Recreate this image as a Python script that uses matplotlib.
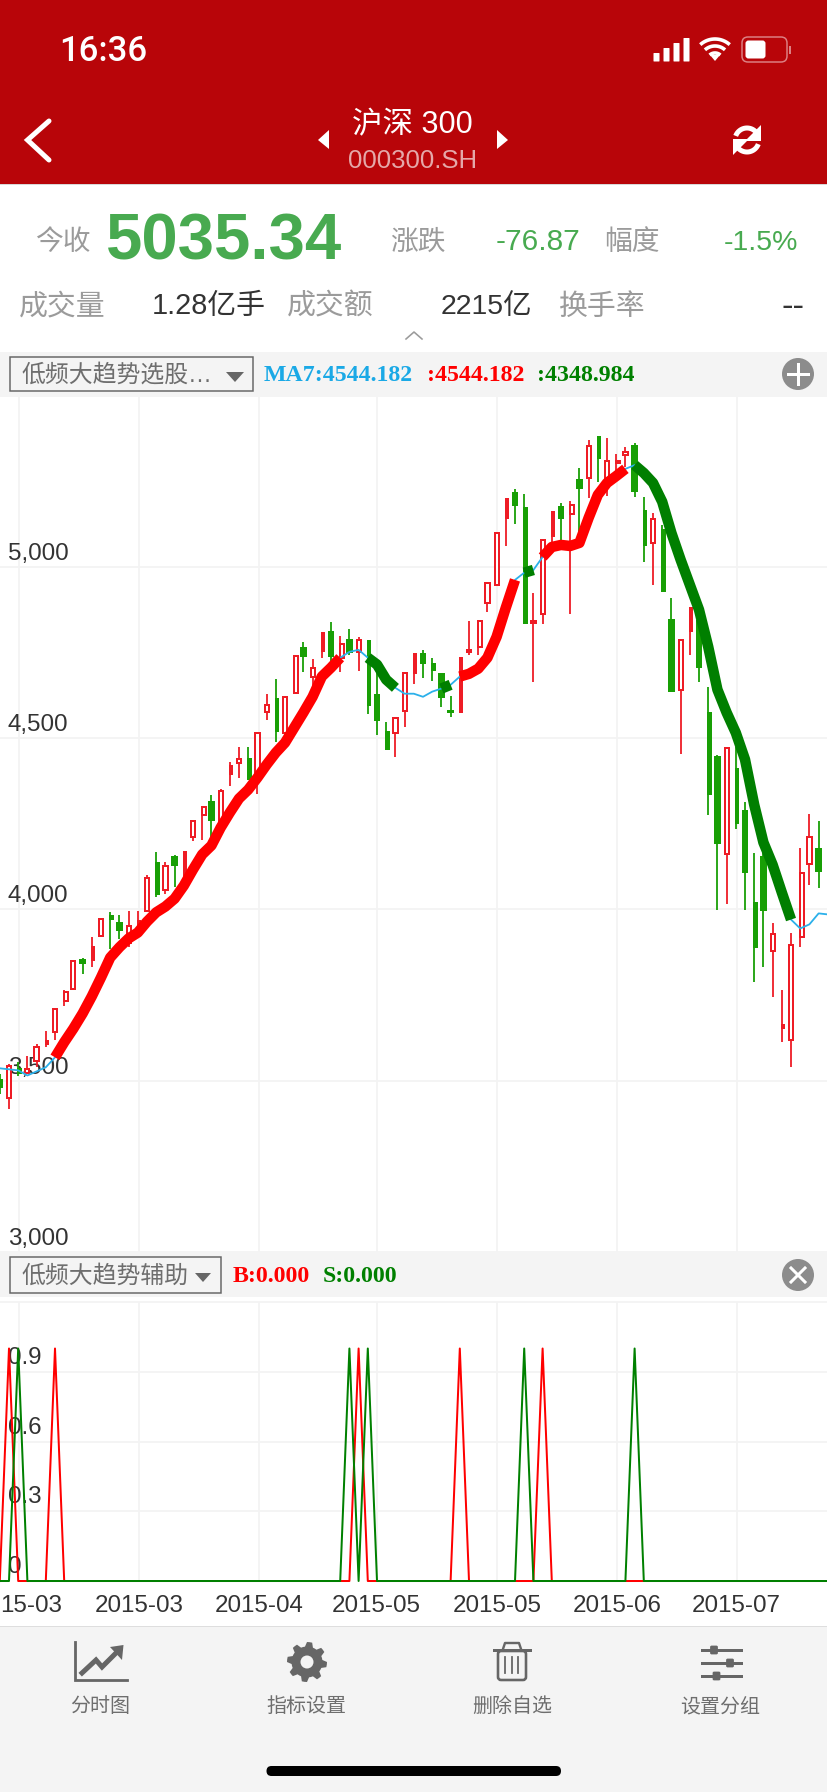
import numpy as np
import matplotlib
matplotlib.use('Agg')
import matplotlib.pyplot as plt
from matplotlib.patches import Rectangle, Circle, Polygon, FancyBboxPatch

# index of first bar is -1 (cut off at the left edge)
opens = [3504,3448,3536,3521,3556,3603,3641,3731,3766,3854,
         3848,3921,3982,3964,3903,3941,3996,4139,4055,4154,
         4096,4212,4276,4317,4247,4393,4428,4442,4387,4576,
         4617,4515,4632,4766,4679,4751,4813,4734,4789,4751,
         4786,4629,4521,4515,4579,4687,4748,4719,4690,4582,
         4574,4751,4766,4894,4947,5139,5218,5174,4836,4862,
         5087,5177,5154,5256,5259,5381,5253,5302,5326,5355,
         5165,5069,5110,4848,4641,4810,4845,4577,4448,4160,
         4413,4291,4020,4154,3877,3650,3620,3918,4133,4180,4087]
closes = [3478,3542,3518,3533,3597,3620,3708,3760,3848,3839,
          3894,3973,3970,3938,3950,3970,4090,4043,4125,4125,
          4171,4259,4297,4259,4346,4422,4439,4378,4515,4597,
          4518,4620,4740,4737,4705,4810,4737,4775,4748,4786,
          4594,4550,4466,4559,4690,4748,4716,4696,4617,4574,
          4737,4757,4842,4953,5098,5200,5177,4833,4842,5078,
          5162,5139,5180,5227,5352,5314,5308,5308,5334,5218,
          5060,5139,4926,4635,4786,4883,4705,4332,4189,4472,
          4250,4107,3886,3996,3929,3664,3897,4107,4212,4110,3941]
highs = [3518,3548,3553,3571,3606,3644,3708,3763,3848,3859,
         3918,3973,3991,3982,3994,3994,4101,4168,4139,4157,
         4171,4259,4302,4332,4352,4431,4474,4474,4515,4629,
         4673,4620,4740,4781,4731,4810,4839,4798,4818,4795,
         4786,4690,4547,4559,4690,4748,4757,4734,4690,4623,
         4737,4842,4842,4953,5098,5200,5227,5212,4923,5078,
         5162,5186,5192,5288,5369,5381,5375,5329,5349,5361,
         5203,5157,5122,4909,4786,4883,4909,4649,4451,4472,
         4474,4314,4165,4221,3961,3763,3932,4180,4279,4259,4113]
lows = [3460,3416,3513,3518,3539,3597,3620,3717,3763,3810,
        3833,3921,3883,3912,3891,3932,3996,4037,4046,4066,
        4087,4198,4203,4212,4233,4361,4384,4378,4335,4553,
        4489,4509,4629,4693,4649,4734,4708,4693,4743,4696,
        4571,4509,4466,4445,4533,4658,4676,4667,4591,4562,
        4574,4743,4743,4868,4947,5060,5125,4833,4664,4833,
        5063,5072,4862,5098,5200,5247,5206,5273,5291,5203,
        5014,4947,4926,4635,4454,4743,4664,4276,3999,4014,
        4235,3999,3787,3833,3743,3612,3539,3889,4072,4063,3900]
ma7 = [3536,3533,3530,3515,3527,3539,3568,3612,3652,3696,
       3746,3801,3859,3889,3915,3932,3964,3991,4008,4031,
       4069,4116,4160,4186,4238,4282,4323,4349,4384,4422,
       4457,4486,4530,4574,4620,4679,4705,4734,4751,4757,
       4734,4714,4670,4646,4629,4629,4620,4635,4644,4655,
       4679,4687,4702,4734,4795,4880,4961,4982,4990,5028,
       5057,5063,5060,5069,5142,5209,5244,5264,5285,5296,
       5273,5244,5189,5098,5020,4947,4874,4766,4641,4574,
       4515,4437,4305,4195,4130,4049,3970,3944,3956,3988,3985]

# stretches of the MA drawn thick (first bar, last bar)
up_runs = [(5, 36), (49, 55), (58, 67)]
down_runs = [(39, 42), (47, 48), (56, 57), (68, 85)]

# signal panel
buy_bars = [0, 5, 38, 49, 58]
sell_bars = [1, 37, 39, 56, 68]

price_ticks = [5000, 4500, 4000, 3500, 3000]
price_labels = ['5,000', '4,500', '4,000', '3,500', '3,000']
sig_ticks = [0.9, 0.6, 0.3, 0]
sig_labels = ['0.9', '0.6', '0.3', '0']
date_pos = [1.14, 14.13, 27.17, 39.95, 53.04, 66.1, 79.1]
date_labels = ['15-03', '2015-03', '2015-04', '2015-05', '2015-05', '2015-06', '2015-07']

SANS = 'Liberation Sans'
CJK = [SANS, 'Noto Sans CJK SC', 'DejaVu Sans']
SERIF = 'Liberation Serif'
BAR_RED = '#ee1c25'
BAR_GREEN = '#189f05'
GRID = '#f3f3f3'
PANEL = '#f4f4f4'
PX = 0.72  # one pixel in points at dpi 100

W, H = 828, 1792
fig = plt.figure(figsize=(W / 100, H / 100), dpi=100, facecolor='white')

# page furniture in pixel coordinates
ui = fig.add_axes([0, 0, 1, 1], zorder=0)
ui.set_xlim(0, W)
ui.set_ylim(H, 0)
ui.axis('off')


def box(x0, y0, x1, y1, fc, ec='none', lw=0):
    ui.add_patch(Rectangle((x0, y0), x1 - x0, y1 - y0, facecolor=fc, edgecolor=ec, linewidth=lw))


def txt(x, y, s, size, color, ha='center', family=None, weight='normal'):
    ui.text(x, y + 2.5, s, fontsize=size, color=color, ha=ha, va='center',
            family=family or CJK, weight=weight)


def tri(pts, color):
    ui.add_patch(Polygon(pts, closed=True, facecolor=color, edgecolor='none'))


box(0, 0, W, 184, '#b80509')
box(0, 184, W, 185, '#d8d8d8')
box(0, 352, W, 397, PANEL)
box(0, 1252, W, 1297, PANEL)
box(0, 1627, W, H, PANEL)
box(0, 1626, W, 1627, '#dedede')

# status bar
txt(103, 49, '16:36', 25, 'white', family='Roboto', weight='medium')
for k, (x, top) in enumerate(zip([653.5, 663.5, 673.5, 683.5], [53, 48, 43, 38])):
    ui.add_patch(FancyBboxPatch((x + 0.5, top + 0.5), 5, 60.5 - top, boxstyle='round,pad=0.5',
                                facecolor='white', edgecolor='none'))
for r in [8, 15, 22]:
    th = np.radians(np.linspace(48, 132, 30))
    ui.plot(715 + r * np.cos(th), 61 - r * np.sin(th), color='white', lw=3.6 * PX, solid_capstyle='butt')
tri([(715, 61), (710, 55), (720, 55)], 'white')
ui.add_patch(FancyBboxPatch((743, 38), 43, 23, boxstyle='round,pad=1,rounding_size=6',
                            facecolor='none', edgecolor='#dc8083', linewidth=1.5 * PX))
ui.add_patch(FancyBboxPatch((746, 41), 19, 17, boxstyle='round,pad=0.5,rounding_size=3',
                            facecolor='white', edgecolor='none'))
box(789, 46, 791, 54, '#dc8083')

# nav bar
ui.plot([49, 27.5, 49], [121, 140, 160], color='white', lw=5 * PX, solid_capstyle='round', solid_joinstyle='miter')
txt(412, 123, '沪深 300', 22, 'white')
txt(413, 159, '000300.SH', 18.5, '#e5a8a9', family=SANS)
tri([(318, 140), (329, 130), (329, 149)], 'white')
tri([(508, 140), (497, 130), (497, 149)], 'white')
for a0, a1 in [(20, 160), (200, 340)]:
    th = np.radians(np.linspace(a0, a1, 40))
    ui.plot(747 + 12 * np.cos(th), 140 - 12 * np.sin(th), color='white', lw=5 * PX, solid_capstyle='butt')
tri([(761, 125), (761, 141), (745, 141)], 'white')
tri([(733, 155), (733, 139), (749, 139)], 'white')

# quote rows
GREY = '#9b9b9b'
QUOTE_GREEN = '#48aa50'
txt(63, 240, '今收', 20, GREY)
txt(105.5, 240, '5035.34', 47, QUOTE_GREEN, ha='left', family=SANS, weight='bold')
txt(418, 240, '涨跌', 20, GREY)
txt(538, 240, '-76.87', 21.5, QUOTE_GREEN, family=SANS)
txt(632, 240, '幅度', 20, GREY)
txt(798, 240, '-1.5%', 20.5, QUOTE_GREEN, ha='right', family=SANS)
txt(62, 304, '成交量', 20.8, GREY)
txt(152, 304, '1.28亿手', 20.8, '#333333', ha='left')
txt(330, 304, '成交额', 20.8, GREY)
txt(441, 304, '2215亿', 20.5, '#333333', ha='left')
txt(602, 304, '换手率', 20.8, GREY)
txt(805, 304, '--', 25, '#333333', ha='right', family=SANS)
ui.plot([406, 414, 422], [339, 332, 339], color='#9b9b9b', lw=1.6 * PX)

# main toolbar
box(10.5, 357, 253.5, 391, 'none', ec='#666666', lw=1.5 * PX)
txt(21, 373, '低频大趋势选股', 17.2, '#6e6e6e', ha='left')
txt(188, 373, '…', 17.2, '#6e6e6e', ha='left', family=SANS)
tri([(226, 372), (244, 372), (235, 382)], '#666666')
txt(264, 373, 'MA7:4544.182', 17.2, '#1aa9e6', ha='left', family=SERIF, weight='bold')
txt(427, 373, ':4544.182', 17.2, '#ff0000', ha='left', family=SERIF, weight='bold')
txt(537, 373, ':4348.984', 17.2, '#008000', ha='left', family=SERIF, weight='bold')
ui.add_patch(Circle((798, 374), 16, facecolor='#8c8c8c', edgecolor='none'))
ui.plot([788, 808], [374, 374], color='white', lw=3 * PX)
ui.plot([798, 798], [364, 384], color='white', lw=3 * PX)

# signal toolbar
box(10.5, 1257, 221.5, 1293, 'none', ec='#666666', lw=1.5 * PX)
txt(21.5, 1274, '低频大趋势辅助', 17.2, '#6e6e6e', ha='left')
tri([(195, 1273), (211, 1273), (203, 1282)], '#666666')
txt(232.5, 1274, 'B:0.000', 17.2, '#ff0000', ha='left', family=SERIF, weight='bold')
txt(322.5, 1274, 'S:0.000', 17.2, '#008000', ha='left', family=SERIF, weight='bold')
ui.add_patch(Circle((798, 1275), 16, facecolor='#8c8c8c', edgecolor='none'))
ui.plot([791, 805], [1268, 1282], color='white', lw=3 * PX)
ui.plot([791, 805], [1282, 1268], color='white', lw=3 * PX)

# bottom bar icons
ICON = '#666666'
ui.plot([75, 75, 127], [1642, 1680.5, 1680.5], color=ICON, lw=2.8 * PX, solid_joinstyle='miter')
ui.plot([82, 96, 102, 119], [1673, 1660, 1667, 1650], color=ICON, lw=5 * PX, solid_joinstyle='miter')
tri([(123.5, 1645), (110, 1647), (122, 1660)], ICON)
txt(100, 1704, '分时图', 14.4, '#6e6e6e')

ang = np.radians(np.arange(0, 360, 7.5))
rad = np.array([20, 20, 20, 15.5, 15.5] + [15.5] * 1)
rad = np.resize(rad, len(ang))
ui.add_patch(Polygon(np.c_[307 + rad * np.cos(ang), 1662 + rad * np.sin(ang)], closed=True,
                     facecolor=ICON, edgecolor='none'))
ui.add_patch(Circle((307, 1662), 6.5, facecolor=PANEL, edgecolor='none'))
txt(306, 1704, '指标设置', 14.4, '#6e6e6e')

ui.add_patch(FancyBboxPatch((498, 1651), 28, 29, boxstyle='round,pad=0,rounding_size=3',
                            facecolor='none', edgecolor=ICON, linewidth=2.6 * PX))
ui.plot([494, 530.5], [1650, 1650], color=ICON, lw=3 * PX)
ui.plot([503, 505, 519, 521], [1649, 1643, 1643, 1649], color=ICON, lw=2.4 * PX)
for x in [505.5, 512, 518.5]:
    ui.plot([x, x], [1657, 1673], color=ICON, lw=1.8 * PX)
txt(512, 1704, '删除自选', 14.4, '#6e6e6e')

for y, knob in zip([1650, 1663, 1676], [714, 730, 716.5]):
    ui.plot([702, 741], [y, y], color=ICON, lw=3 * PX)
    ui.add_patch(FancyBboxPatch((knob - 4, y - 4.5), 8, 9, boxstyle='round,pad=0.5,rounding_size=2',
                                facecolor=ICON, edgecolor=PANEL, linewidth=1.2 * PX))
txt(720, 1704, '设置分组', 14.4, '#6e6e6e')

ui.add_patch(FancyBboxPatch((266.5, 1766), 294.5, 10, boxstyle='round,pad=0,rounding_size=5',
                            facecolor='black', edgecolor='none', mutation_aspect=1))

# price panel
idx = np.arange(-1, 90)
xlim = (-0.978, 89.02)
px_per_bar = 9.2
ax = fig.add_axes([0, 1 - 1252 / H, 1, (1252 - 397) / H], zorder=1)
ax.patch.set_alpha(0)
ax.set_xlim(*xlim)
ax.set_ylim(3002.4, 5494.7)
for s in ax.spines.values():
    s.set_visible(False)
ax.set_xticks(date_pos)
ax.set_yticks(price_ticks)
ax.tick_params(length=0, labelbottom=False, labelleft=False)
ax.grid(True, color=GRID, lw=1.8 * PX, zorder=0)
ax.set_axisbelow(True)

for t, lab in zip(price_ticks, price_labels):
    ax.annotate(lab, xy=(0, t), xycoords=('axes fraction', 'data'), xytext=(8 * PX, 7 * PX),
                textcoords='offset points', fontsize=17.4, color='#333333', family=SANS,
                ha='left', va='baseline', zorder=1.5, annotation_clip=False)

for i, o, c, h, l in zip(idx, opens, closes, highs, lows):
    up = c >= o
    col = BAR_RED if up else BAR_GREEN
    bot, top = min(o, c), max(o, c)
    ax.plot([i, i], [l, h], color=col, lw=1.8 * PX, solid_capstyle='butt', zorder=2)
    # the app snaps bar widths to whole pixels, every fifth pair comes out narrow
    if i % 5 == 4:
        w_px, off_px = 3.6, 1.0
    elif i % 5 == 1:
        w_px, off_px = (3.8, 1.5) if up else (5.0, 1.6)
    else:
        w_px, off_px = (4.2, 0) if up else (6.4, 0)
    w, off = w_px / px_per_bar, off_px / px_per_bar
    if not up:
        ax.bar(i + off, top - bot, width=w, bottom=bot, color=col, zorder=3)
    elif i % 5 == 4:
        ax.bar(i + off, top - bot, width=w, bottom=bot, color=col, zorder=3)
    else:
        ax.bar(i + off, top - bot, width=w, bottom=bot, facecolor='white', edgecolor=col,
               linewidth=2 * PX, zorder=3)

ax.plot(idx, ma7, color='#2bb0ea', lw=1.8 * PX, zorder=4)
for runs, col in [(up_runs, '#ff0000'), (down_runs, '#007f00')]:
    for a, b in runs:
        ax.plot(idx[a + 1:b + 2], ma7[a + 1:b + 2], color=col, lw=10.5 * PX,
                solid_capstyle='butt', solid_joinstyle='round', zorder=5)

# signal panel
buy = [1 if i in buy_bars else 0 for i in idx]
sell = [1 if i in sell_bars else 0 for i in idx]
ax2 = fig.add_axes([0, 1 - 1626 / H, 1, (1626 - 1297) / H], zorder=1)
ax2.patch.set_alpha(0)
ax2.set_xlim(*xlim)
ax2.set_ylim(-0.1935, 1.2215)
ax2.axis('off')
ax2.vlines(date_pos, 0, 1.2, color=GRID, lw=1.8 * PX, zorder=0)
ax2.hlines([0.3, 0.6, 0.9, 1.2], *xlim, color=GRID, lw=1.8 * PX, zorder=0)
for t, lab in zip(sig_ticks, sig_labels):
    ax2.annotate(lab, xy=(0, t), xycoords=('axes fraction', 'data'), xytext=(8 * PX, 8 * PX),
                 textcoords='offset points', fontsize=17.4, color='#333333', family=SANS,
                 ha='left', va='baseline', zorder=1.5, annotation_clip=False)
ax2.plot(idx, buy, color='#ff0000', lw=2 * PX, zorder=2)
ax2.plot(idx, sell, color='#008000', lw=2 * PX, zorder=3)
for p, lab in zip(date_pos, date_labels):
    # the first label runs off the left edge in the app, only its tail shows
    if lab == '15-03':
        ax2.annotate(lab, xy=(p, 0), xytext=(43 * PX, -30.5 * PX), textcoords='offset points', fontsize=17.4,
                     color='#333333', family=SANS, ha='right', va='baseline', annotation_clip=False)
    else:
        ax2.annotate(lab, xy=(p, 0), xytext=(0, -30.5 * PX), textcoords='offset points', fontsize=17.4,
                     color='#333333', family=SANS, ha='center', va='baseline', annotation_clip=False)

fig.savefig('out.png', dpi=100)
